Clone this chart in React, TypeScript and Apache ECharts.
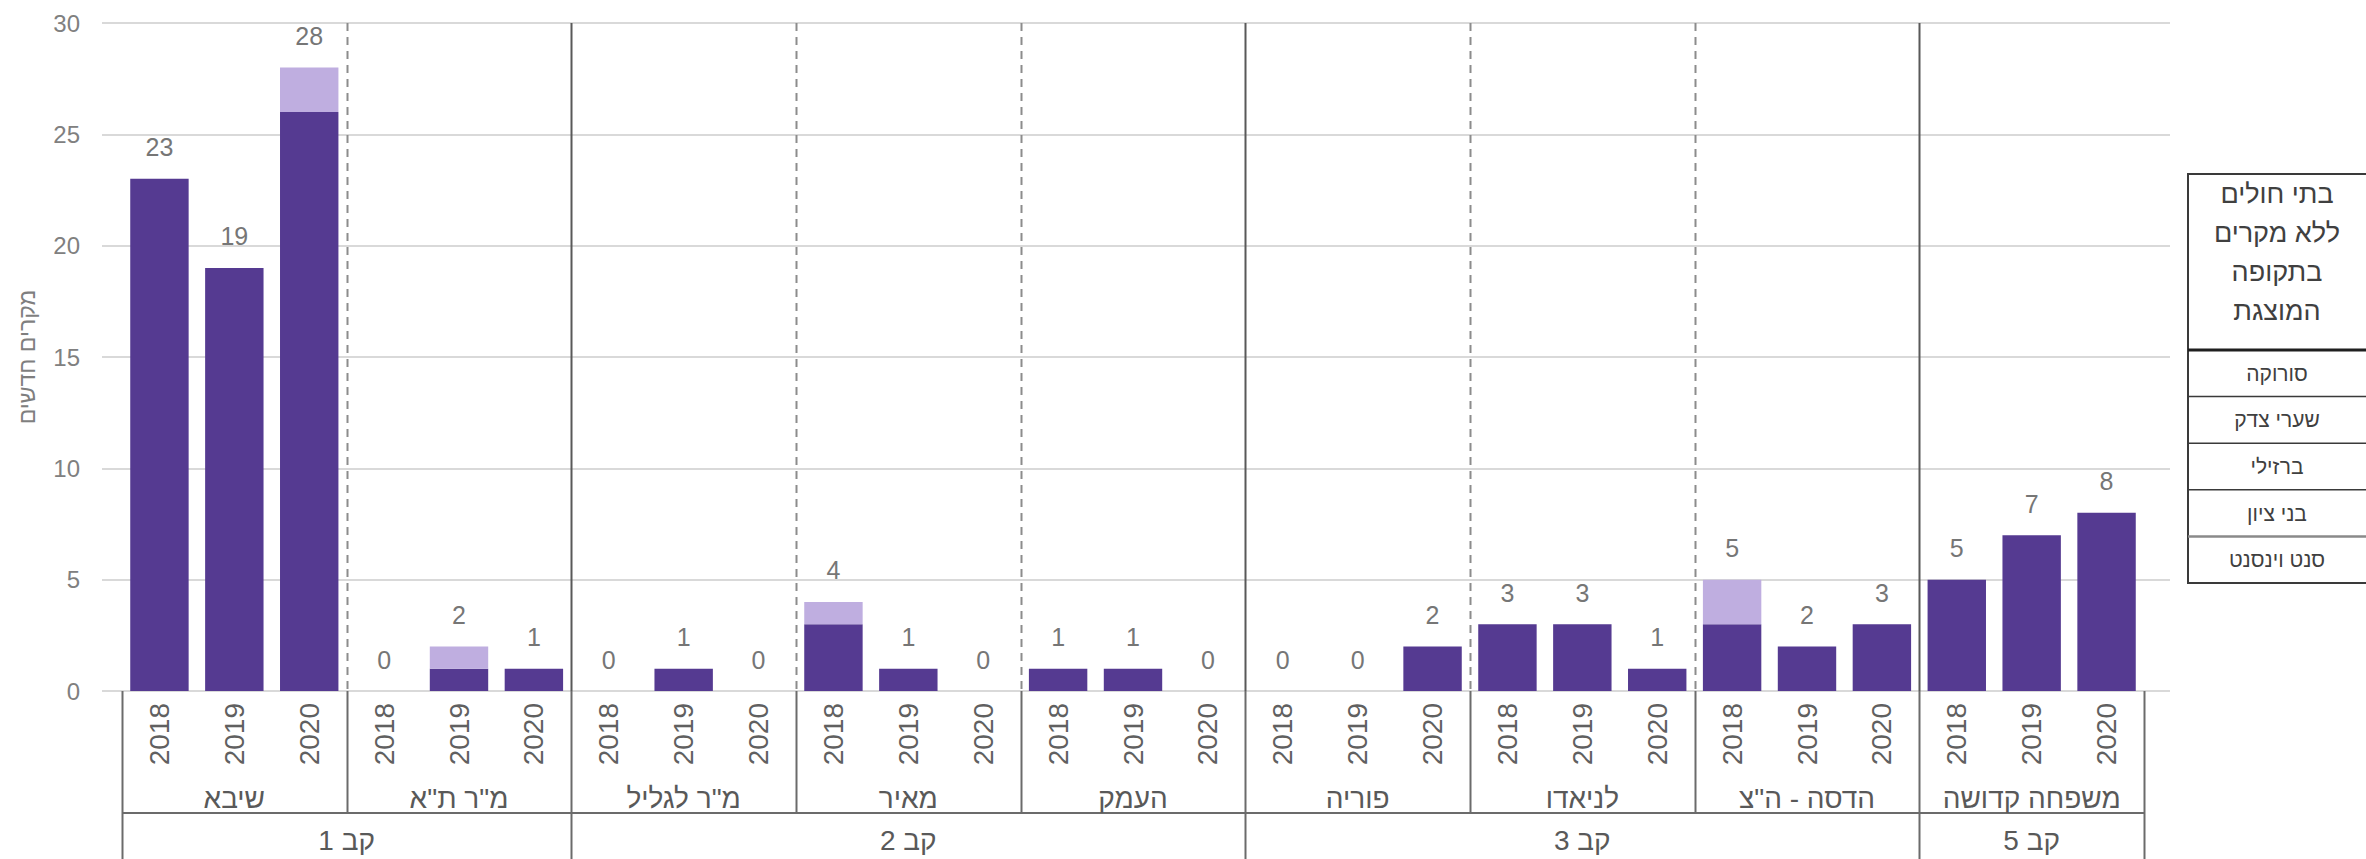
import React, { useEffect, useRef } from "react";
import * as echarts from "echarts";

const FONT = '"Liberation Sans", Arial, "DejaVu Sans", sans-serif';

const years = ["2018", "2019", "2020"];
const hospitals = ["שיבא", 'מ"ר ת"א', 'מ"ר לגליל', "מאיר", "העמק", "פוריה", "לניאדו", 'הדסה - ה"צ', "משפחה קדושה"];
const clusters = ["קב 1", "קב 2", "קב 3", "קב 5"];
const clusterHospitalCounts = [2, 3, 3, 1];
const darkValues = [23, 19, 26, 0, 1, 1, 0, 1, 0, 3, 1, 0, 1, 1, 0, 0, 0, 2, 3, 3, 1, 3, 2, 3, 5, 7, 8];
const lightValues = [0, 0, 2, 0, 1, 0, 0, 0, 0, 1, 0, 0, 0, 0, 0, 0, 0, 0, 0, 0, 0, 2, 0, 0, 0, 0, 0];
const yMin = 0;
const yMax = 30;
const yInterval = 5;
const yAxisTitle = "מקרים חדשים";
const legendTitle = ["בתי חולים", "ללא מקרים", "בתקופה", "המוצגת"];
const legendItems = ["סורוקה", "שערי צדק", "ברזילי", "בני ציון", "סנט וינסנט"];

const DARK = "#553A91";
const LIGHT = "#BFAEE0";

export default function App() {
  const ref = useRef<HTMLDivElement>(null);
  useEffect(() => {
    if (!ref.current) return;
    const chart = echarts.init(ref.current, undefined, { renderer: "svg" });
    const categories = hospitals.flatMap((h) => years.map((y) => `${h}|${y}`));
    const totals = darkValues.map((v, i) => v + lightValues[i]);
    const nCat = categories.length;

    const option: any = {
      animation: false,
      textStyle: { fontFamily: FONT },
      grid: [
        { left: 102, right: 196, top: 23, bottom: 168 },
        { left: 122, right: 222, top: 23, bottom: 168 },
      ],
      xAxis: [
        { gridIndex: 0, type: "value", show: false, min: 0, max: 1 },
        {
          gridIndex: 1,
          type: "category",
          data: categories,
          axisLine: { show: false },
          axisTick: { show: false },
          axisLabel: {
            rotate: 90,
            interval: 0,
            fontSize: 28,
            color: "#606060",
            margin: 12,
            fontFamily: FONT,
            formatter: (v: string) => v.split("|")[1],
          },
        },
        { gridIndex: 1, type: "value", min: 0, max: nCat, show: false },
      ],
      yAxis: [
        {
          gridIndex: 0,
          type: "value",
          min: yMin,
          max: yMax,
          interval: yInterval,
          axisLine: { show: false },
          axisTick: { show: false },
          axisLabel: { fontSize: 24, color: "#808080", margin: 22, fontFamily: FONT },
          splitLine: { lineStyle: { color: "#d9d9d9", width: 2 } },
        },
        { gridIndex: 1, type: "value", min: yMin, max: yMax, interval: yInterval, show: false },
      ],
      series: [
        {
          type: "bar",
          xAxisIndex: 1,
          yAxisIndex: 1,
          stack: "total",
          data: darkValues,
          barWidth: "78%",
          itemStyle: { color: DARK },
        },
        {
          type: "bar",
          xAxisIndex: 1,
          yAxisIndex: 1,
          stack: "total",
          data: lightValues,
          barWidth: "78%",
          itemStyle: { color: LIGHT },
          label: {
            show: true,
            position: "top",
            distance: 19,
            fontSize: 25,
            color: "#767676",
            fontFamily: FONT,
            formatter: (p: any) => String(totals[p.dataIndex]),
          },
        },
      ],
    };
    chart.setOption(option);

    const px = (v: number) => chart.convertToPixel({ xAxisIndex: 2 }, v) as number;
    const py = (v: number) => chart.convertToPixel({ yAxisIndex: 1 }, v) as number;
    const y0 = py(yMin);
    const yTop = py(yMax);
    const hospLineBottom = 813;
    const clusterLineBottom = 862;
    const hospLabelY = 798;
    const clusterLabelY = 840;

    const hospBounds = hospitals.map((_, i) => i * years.length).concat([nCat]);
    const clusterBounds: number[] = [0];
    clusterHospitalCounts.forEach((c) => clusterBounds.push(clusterBounds[clusterBounds.length - 1] + c * years.length));

    const graphics: any[] = [];
    // plot separators
    hospBounds.forEach((b) => {
      if (b === 0 || b === nCat) return;
      const isCluster = clusterBounds.includes(b);
      const x = Math.round(px(b)) + 0.5;
      graphics.push({
        type: "line",
        silent: true,
        shape: { x1: x, y1: yTop, x2: x, y2: y0 },
        style: isCluster
          ? { stroke: "#595959", lineWidth: 2 }
          : { stroke: "#8c8c8c", lineWidth: 2, lineDash: [8, 6] },
        z: 5,
      });
    });
    // axis region lines
    hospBounds.forEach((b) => {
      const isCluster = clusterBounds.includes(b);
      const x = Math.round(px(b)) + 0.5;
      graphics.push({
        type: "line",
        silent: true,
        shape: { x1: x, y1: y0, x2: x, y2: isCluster ? clusterLineBottom : hospLineBottom },
        style: { stroke: "#6b6b6b", lineWidth: 2 },
      });
    });
    graphics.push({
      type: "line",
      silent: true,
      shape: { x1: px(0), y1: hospLineBottom, x2: px(nCat), y2: hospLineBottom },
      style: { stroke: "#6b6b6b", lineWidth: 2 },
    });
    // hospital labels
    hospitals.forEach((h, i) => {
      const cx = (px(hospBounds[i]) + px(hospBounds[i + 1])) / 2;
      graphics.push({
        type: "text",
        silent: true,
        style: {
          text: h,
          x: cx,
          y: hospLabelY,
          fill: "#595959",
          fontSize: 28,
          fontFamily: FONT,
          align: "center",
          verticalAlign: "middle",
          textAlign: "center",
          textVerticalAlign: "middle",
        },
      });
    });
    clusters.forEach((c, i) => {
      const cx = (px(clusterBounds[i]) + px(clusterBounds[i + 1])) / 2;
      graphics.push({
        type: "text",
        silent: true,
        style: {
          text: c,
          x: cx,
          y: clusterLabelY,
          fill: "#595959",
          fontSize: 28,
          fontFamily: FONT,
          align: "center",
          verticalAlign: "middle",
          textAlign: "center",
          textVerticalAlign: "middle",
        },
      });
    });
    // y axis title
    graphics.push({
      type: "text",
      silent: true,
      x: 27,
      y: (y0 + yTop) / 2,
      rotation: Math.PI / 2,
      style: {
        text: yAxisTitle,
        x: 0,
        y: 0,
        fill: "#7f7f7f",
        fontSize: 23,
        fontFamily: FONT,
        align: "center",
        verticalAlign: "middle",
        textAlign: "center",
        textVerticalAlign: "middle",
      },
    });
    // legend-like table
    const boxL = 2188;
    const boxR = 2367;
    const boxTop = 174;
    const headerBottom = 350;
    const rowH = 46.6;
    const boxBottom = headerBottom + rowH * legendItems.length;
    const boxCx = (boxL + 2366) / 2;
    graphics.push({
      type: "rect",
      silent: true,
      shape: { x: boxL, y: boxTop, width: boxR - boxL, height: boxBottom - boxTop },
      style: { fill: "#ffffff", stroke: "#3a3a3a", lineWidth: 2 },
    });
    graphics.push({
      type: "text",
      silent: true,
      style: {
        text: legendTitle.join("\n"),
        x: boxCx,
        y: 252,
        fill: "#404040",
        fontSize: 27,
        lineHeight: 39,
        fontFamily: FONT,
        align: "center",
        verticalAlign: "middle",
        textAlign: "center",
        textVerticalAlign: "middle",
      },
    });
    graphics.push({
      type: "line",
      silent: true,
      shape: { x1: boxL, y1: headerBottom, x2: boxR, y2: headerBottom },
      style: { stroke: "#1f1f1f", lineWidth: 3 },
    });
    legendItems.forEach((t, i) => {
      const top = headerBottom + rowH * i;
      if (i > 0) {
        graphics.push({
          type: "line",
          silent: true,
          shape: { x1: boxL, y1: top, x2: boxR, y2: top },
          style: { stroke: i === legendItems.length - 1 ? "#8a8a8a" : "#3a3a3a", lineWidth: i === legendItems.length - 1 ? 2.5 : 1.5 },
        });
      }
      graphics.push({
        type: "text",
        silent: true,
        style: {
          text: t,
          x: boxCx,
          y: top + rowH / 2,
          fill: "#404040",
          fontSize: 21,
          fontFamily: FONT,
          align: "center",
          verticalAlign: "middle",
          textAlign: "center",
          textVerticalAlign: "middle",
        },
      });
    });

    chart.setOption({ graphic: { elements: graphics } });

    return () => chart.dispose();
  }, []);

  return (
    <div
      ref={ref}
      style={{ position: "fixed", left: 0, top: 0, width: 2366, height: 859, background: "#ffffff" }}
    />
  );
}
